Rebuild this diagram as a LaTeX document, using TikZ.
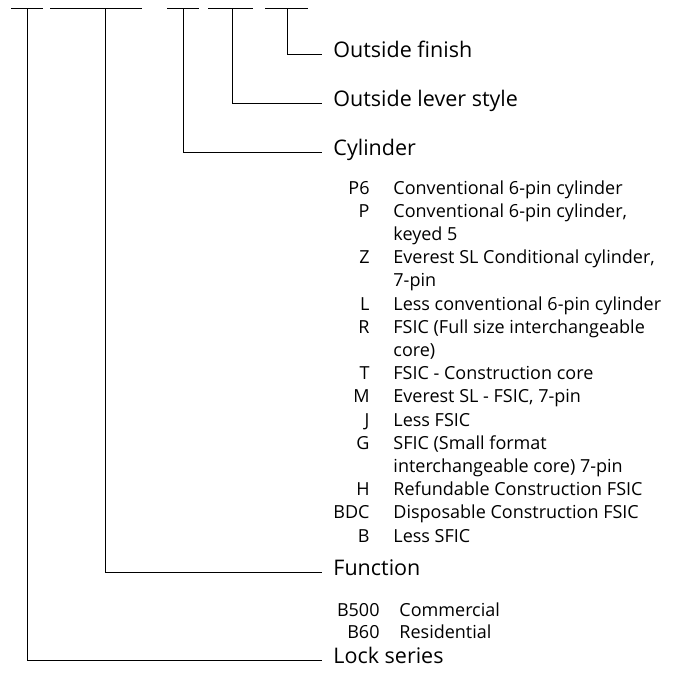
\documentclass[tikz,border=0pt]{standalone}
\usepackage{fontspec}
\setmainfont{Open Sans}
\usetikzlibrary{positioning}

\begin{document}
\begin{tikzpicture}[x=1pt,y=-1pt,line width=0.9pt,
  heading/.style={anchor=west,inner sep=0pt,text height=1.3ex,text depth=0pt,
    font=\fontsize{21.5}{24}\selectfont},
  optcode/.style={anchor=base east,inner sep=0pt,font=\fontsize{18}{20}\selectfont},
  optname/.style={anchor=base west,inner sep=0pt,font=\fontsize{18}{20}\selectfont}]
\useasboundingbox (0,0) rectangle (674,681);
% blanks of the order number
\foreach \from/\to in {11/43,50/142,167/199,208/253,265/308}
  \draw (\from,8) -- (\to,8);
\coordinate (series) at (27,8);
\coordinate (function) at (105,8);
\coordinate (cylinder) at (183,8);
\coordinate (lever) at (232,8);
\coordinate (finish) at (287,8);
% headings
\node[heading] (finish-label) at (333,54) {Outside finish};
\node[heading] (lever-label) at (333,103) {Outside lever style};
\node[heading] (cylinder-label) at (333,152) {Cylinder};
\node[heading] (function-label) at (333,572) {Function};
\node[heading] (series-label) at (333,660) {Lock series};
\foreach \part in {finish,lever,cylinder,function,series}
  \draw (\part) |- ([xshift=-11pt]\part-label.west);
% cylinder options
\foreach \optc/\optt [count=\i from 0] in {P6/Conventional 6-pin cylinder,
    P/{Conventional 6-pin cylinder,},/keyed 5,
    Z/{Everest SL Conditional cylinder,},/7-pin,
    L/Less conventional 6-pin cylinder,
    R/FSIC (Full size interchangeable,/core),
    T/FSIC - Construction core,
    M/{Everest SL - FSIC, 7-pin},
    J/Less FSIC,
    G/SFIC (Small format,/interchangeable core) 7-pin,
    H/Refundable Construction FSIC,
    BDC/Disposable Construction FSIC,
    B/Less SFIC}{
  \node[optcode] (cyl-code-\i) at (370,194+23.2*\i) {\optc};
  \node[optname] (cyl-opt-\i) at (393,194+23.2*\i) {\optt};
}
% function options
\node[optcode] (fn-code-1) at (380,616) {B500};
\node[optname] (fn-opt-1) at (399,616) {Commercial};
\node[optcode] (fn-code-2) at (380,638) {B60};
\node[optname] (fn-opt-2) at (399,638) {Residential};
\end{tikzpicture}
\end{document}
